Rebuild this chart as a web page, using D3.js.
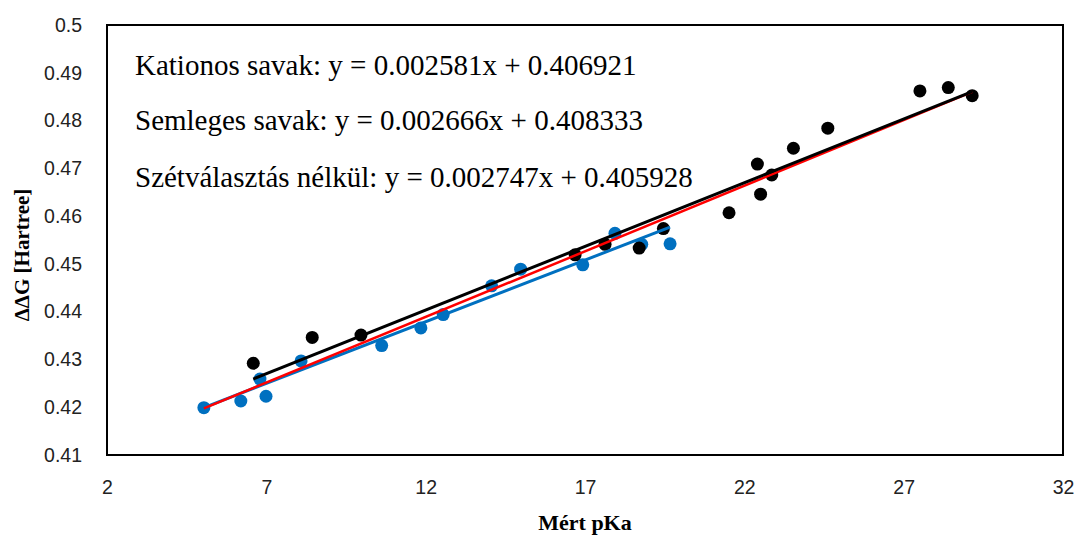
<!DOCTYPE html>
<html><head><meta charset="utf-8">
<script src="https://cdn.jsdelivr.net/npm/d3@7"></script>
<style>body{margin:0;background:#fff}svg{display:block}</style>
</head><body>
<script>
// Kationos savak (blue points)
const cationX = [5.04, 6.20, 6.99, 6.80, 8.09, 10.62, 11.85, 12.55, 14.07, 14.98, 16.93, 17.94, 18.78, 19.67];
const cationY = [0.4199, 0.4213, 0.4223, 0.4259, 0.4297, 0.4329, 0.4366, 0.4394, 0.4454, 0.4489, 0.4498, 0.4564, 0.4541, 0.4542];
// Semleges savak (black points)
const neutralX = [6.59, 8.44, 9.97, 16.69, 17.63, 18.70, 19.46, 21.52, 22.51, 22.41, 22.86, 23.54, 24.62, 27.51, 28.40, 29.15];
const neutralY = [0.4292, 0.4346, 0.4351, 0.4519, 0.4541, 0.4533, 0.4574, 0.4607, 0.4646, 0.4709, 0.4686, 0.4742, 0.4784, 0.4862, 0.4869, 0.4852];
// trendlines: slope, intercept
const fitNames = ["Kationos savak", "Semleges savak", "Szétválasztás nélkül"];
const fitSlopes = [0.002581, 0.002666, 0.002747];
const fitIntercepts = [0.406921, 0.408333, 0.405928];
const xTicks = [2, 7, 12, 17, 22, 27, 32];
const yTicks = [0.41, 0.42, 0.43, 0.44, 0.45, 0.46, 0.47, 0.48, 0.49, 0.5];

const W = 1077, H = 536;
const m = {l: 107, r: 14, t: 25, b: 81};
const svg = d3.select("body").append("svg").attr("width", W).attr("height", H);
const x = d3.scaleLinear().domain([2, 32]).range([m.l, W - m.r]);
const y = d3.scaleLinear().domain([0.41, 0.5]).range([H - m.b, m.t]);

const sans = "'Liberation Sans', Arial, sans-serif";
const serif = "'Liberation Serif', 'Times New Roman', serif";
const yAxis = d3.axisLeft(y).tickValues(yTicks).tickSize(0).tickPadding(25)
  .tickFormat(d => String(+d.toFixed(2)));
const gy = svg.append("g").attr("transform", `translate(${m.l},0)`).call(yAxis);
gy.select(".domain").remove();
gy.selectAll("text").attr("font-family", sans).attr("font-size", 19.5).attr("fill", "#222");
const xAxis = d3.axisBottom(x).tickValues(xTicks).tickSize(0).tickPadding(25).tickFormat(d3.format("d"));
const gx = svg.append("g").attr("transform", `translate(0,${H - m.b})`).call(xAxis);
gx.select(".domain").remove();
gx.selectAll("text").attr("font-family", sans).attr("font-size", 19.5).attr("fill", "#222");

// frame
svg.append("rect").attr("x", x(2)).attr("y", y(0.5))
  .attr("width", x(32) - x(2)).attr("height", y(0.41) - y(0.5))
  .attr("fill", "none").attr("stroke", "#000").attr("stroke-width", 2);

// points
svg.append("g").selectAll("circle").data(cationX.map((d, i) => [d, cationY[i]])).join("circle")
  .attr("cx", d => x(d[0])).attr("cy", d => y(d[1])).attr("r", 6.5).attr("fill", "#0070C0");
svg.append("g").selectAll("circle").data(neutralX.map((d, i) => [d, neutralY[i]])).join("circle")
  .attr("cx", d => x(d[0])).attr("cy", d => y(d[1])).attr("r", 6.5).attr("fill", "#000");

// trendlines
const allX = cationX.concat(neutralX);
const ranges = [d3.extent(cationX), d3.extent(neutralX), d3.extent(allX)];
const colors = ["#0070C0", "#000000", "#FF0000"];
const widths = [3, 3, 2.5];
const order = [0, 2, 1];
const line = d3.line().x(d => x(d[0])).y(d => y(d[1]));
order.forEach(i => {
  const pts = ranges[i].map(v => [v, fitSlopes[i] * v + fitIntercepts[i]]);
  svg.append("path").attr("d", line(pts)).attr("fill", "none")
    .attr("stroke", colors[i]).attr("stroke-width", widths[i]);
});

// equation texts
const eqY = [75, 130, 187];
fitNames.forEach((n, i) => {
  svg.append("text").attr("x", 135).attr("y", eqY[i])
    .attr("font-family", serif).attr("font-size", 29).attr("fill", "#000")
    .text(`${n}: y = ${fitSlopes[i].toFixed(6)}x + ${fitIntercepts[i].toFixed(6)}`);
});

// axis titles
svg.append("text").attr("x", (x(2) + x(32)) / 2).attr("y", 530).attr("text-anchor", "middle")
  .attr("font-family", serif).attr("font-weight", "bold").attr("font-size", 22).text("Mért pKa");
svg.append("text").attr("transform", `translate(29,255) rotate(-90)`)
  .attr("text-anchor", "middle").attr("font-family", serif).attr("font-weight", "bold")
  .attr("font-size", 21).text("ΔΔG [Hartree]");
</script>
</body></html>
